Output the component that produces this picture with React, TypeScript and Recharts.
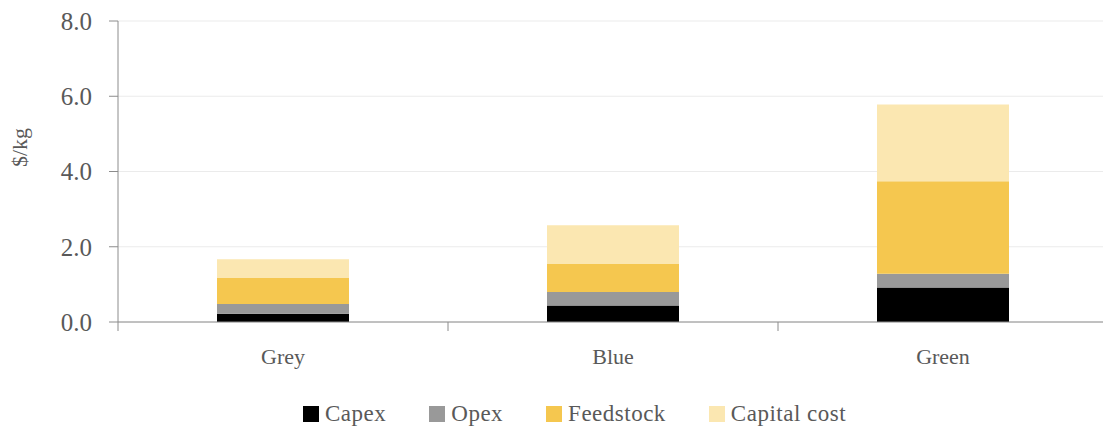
import React from 'react';
import {
  Bar,
  BarChart,
  CartesianGrid,
  Legend,
  XAxis,
  YAxis,
} from 'recharts';

const categories = ['Grey', 'Blue', 'Green'];
const capex = [0.22, 0.44, 0.92];
const opex = [0.26, 0.36, 0.36];
const feedstock = [0.69, 0.74, 2.46];
const capitalCost = [0.5, 1.03, 2.04];
const yTicks = [0, 2, 4, 6, 8];

const series = [
  { key: 'capex', name: 'Capex', color: '#000000' },
  { key: 'opex', name: 'Opex', color: '#999999' },
  { key: 'feedstock', name: 'Feedstock', color: '#F5C74F' },
  { key: 'capital', name: 'Capital cost', color: '#FBE7B1' },
];

const data = categories.map((name, i) => ({
  name,
  capex: capex[i],
  opex: opex[i],
  feedstock: feedstock[i],
  capital: capitalCost[i],
}));

const FONT = "'Liberation Serif', 'Times New Roman', 'DejaVu Serif', serif";
const TEXT = '#595959';
const AXIS = '#8c8c8c';

// category label centred in its band, with a divider tick on the band's left edge
function CategoryTick(props: any) {
  const { x, y, payload } = props;
  const half = payload.offset ?? 165;
  return (
    <g>
      <line x1={x - half} x2={x - half} y1={y} y2={y + 9} stroke={AXIS} strokeWidth={1} />
      <text
        x={x}
        y={y + 42}
        textAnchor="middle"
        fill={TEXT}
        style={{ fontFamily: FONT, fontSize: 22 }}
      >
        {payload.value}
      </text>
    </g>
  );
}

// legend keeps the stacking order (bottom segment first)
function LegendRow() {
  return (
    <div
      style={{
        height: 45,
        boxSizing: 'border-box',
        paddingTop: 18,
        paddingLeft: 303,
        display: 'flex',
        alignItems: 'center',
        fontFamily: FONT,
        fontSize: 23,
        letterSpacing: 0.5,
        color: TEXT,
      }}
    >
      {series.map((s) => (
        <div key={s.key} style={{ display: 'flex', alignItems: 'center', marginRight: 43 }}>
          <span
            style={{ width: 16, height: 16, background: s.color, marginRight: 6, display: 'inline-block' }}
          />
          <span style={{ lineHeight: '27px' }}>{s.name}</span>
        </div>
      ))}
    </div>
  );
}

export default function App() {
  return (
    <div style={{ position: 'absolute', left: 0, top: 0, width: 1103, height: 427, overflow: 'hidden' }}>
      <BarChart
        width={1108}
        height={427}
        data={data}
        margin={{ top: 21, right: 0, left: 0, bottom: 0 }}
        barSize={132}
      >
        <CartesianGrid vertical={false} stroke="#ebebeb" />
        <XAxis
          dataKey="name"
          axisLine={{ stroke: AXIS }}
          tickLine={false}
          tickSize={0}
          tickMargin={0}
          height={60}
          tick={<CategoryTick />}
        />
        <YAxis
          width={118}
          domain={[0, 8]}
          ticks={yTicks}
          tickFormatter={(v: number) => v.toFixed(1)}
          axisLine={{ stroke: AXIS }}
          tickLine={{ stroke: AXIS }}
          tickSize={9}
          tickMargin={17}
          tick={{ fill: TEXT, style: { fontFamily: FONT, fontSize: 25 } }}
          label={{
            value: '$/kg',
            angle: -90,
            position: 'insideLeft',
            dx: 14,
            dy: -24,
            fill: TEXT,
            style: { textAnchor: 'middle', fontFamily: FONT, fontSize: 22 },
          }}
        />
        <Legend verticalAlign="bottom" content={<LegendRow />} wrapperStyle={{ left: 0, width: 1108 }} />
        {series.map((s) => (
          <Bar
            key={s.key}
            dataKey={s.key}
            name={s.name}
            stackId="cost"
            fill={s.color}
            isAnimationActive={false}
          />
        ))}
      </BarChart>
    </div>
  );
}
